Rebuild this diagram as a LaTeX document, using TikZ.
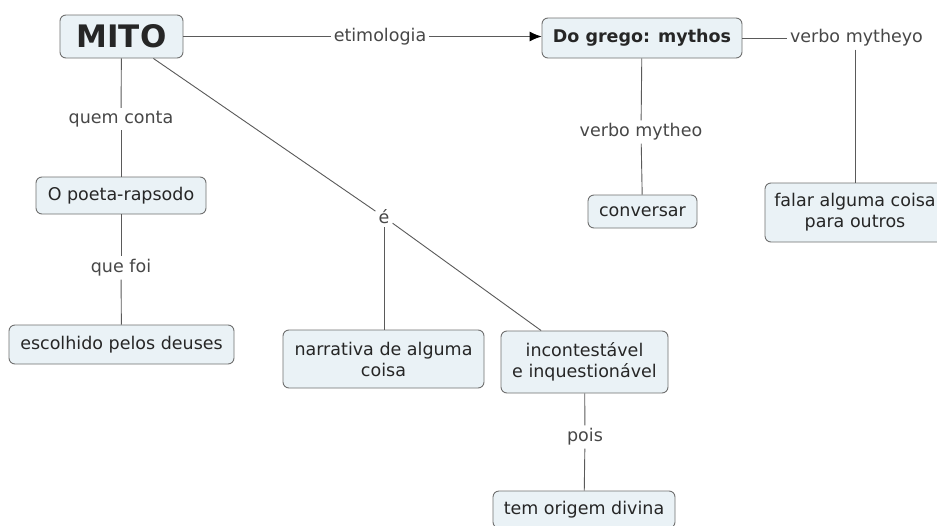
\documentclass[tikz,border=0pt]{standalone}
\usepackage{fontspec}
\setmainfont{DejaVu Sans}
\usetikzlibrary{arrows.meta}
\definecolor{boxfill}{HTML}{EAF2F6}
\definecolor{boxdraw}{HTML}{707070}
\definecolor{linec}{HTML}{5A5A5A}
\definecolor{txt}{HTML}{262626}
\begin{document}
\begin{tikzpicture}[x=1pt,y=-1pt,
  concept/.style={draw=boxdraw, fill=boxfill, rounded corners=6pt, line width=0.9pt,
    inner sep=0pt, align=center, text=txt, font=\fontsize{17.5}{21}\selectfont},
  linklabel/.style={fill=white, inner sep=3pt, text=txt!85, font=\fontsize{17.5}{21}\selectfont},
  conn/.style={draw=linec, line width=0.9pt}]
\useasboundingbox (0,0) rectangle (937,525);
\fill[white] (0,0) rectangle (937,525);

% concepts
\node[concept, minimum width=123pt, minimum height=43pt, font=\fontsize{31}{36}\selectfont\bfseries] (mito) at (121.5,36.5) {MITO};
\node[concept, minimum width=200pt, minimum height=40pt, font=\fontsize{17.5}{21}\selectfont\bfseries] (grego) at (642,38) {Do grego: mythos};
\node[concept, minimum width=180pt, minimum height=59pt] (falar) at (855,212.5) {falar alguma coisa\\para outros};
\node[concept, minimum width=109pt, minimum height=33pt] (conv) at (642.5,211.5) {conversar};
\node[concept, minimum width=170pt, minimum height=37pt] (poeta) at (121,195.5) {O poeta-rapsodo};
\node[concept, minimum width=225pt, minimum height=39pt] (escolhido) at (121.5,344.5) {escolhido pelos deuses};
\node[concept, minimum width=201pt, minimum height=58pt] (narr) at (383.5,359) {narrativa de alguma\\coisa};
\node[concept, minimum width=167pt, minimum height=62pt] (incont) at (584.5,362) {incontestável\\e inquestionável};
\node[concept, minimum width=182pt, minimum height=37pt] (origem) at (584,509.5) {tem origem divina};

% link labels
\node[linklabel] (etim) at (380,36.5) {etimologia};
\node[linklabel] (vmytheyo) at (856.5,38) {verbo mytheyo};
\node[linklabel] (vmytheo) at (641,132) {verbo mytheo};
\node[linklabel] (quem) at (121,119) {quem conta};
\node[linklabel] (quefoi) at (121,268) {que foi};
\node[linklabel] (e) at (384,217) {é};
\node[linklabel] (pois) at (585,437) {pois};

% connectors
\draw[conn] (mito) -- (etim);
\draw[conn, -{Latex[length=12pt,width=10pt,fill=black,color=black]}] (etim.east) -- (etim.east -| grego.west);
\draw[conn] (grego) -- (vmytheyo);
\draw[conn] (vmytheyo.south -| falar.north) -- (falar.north);
\draw[conn] (grego) -- (vmytheo);
\draw[conn] (vmytheo) -- (conv);
\draw[conn] (mito) -- (quem);
\draw[conn] (quem) -- (poeta);
\draw[conn] (poeta) -- (quefoi);
\draw[conn] (quefoi) -- (escolhido);
\draw[conn] (mito) -- (e);
\draw[conn] (e) -- (incont);
\draw[conn] (e.south) -- (e.south |- narr.north);
\draw[conn] (incont) -- (pois);
\draw[conn] (pois) -- (origem);
\end{tikzpicture}
\end{document}
